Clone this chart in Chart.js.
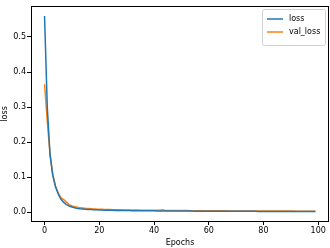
<!DOCTYPE html>
<html>
<head>
<meta charset="utf-8">
<script src="https://cdn.jsdelivr.net/npm/chart.js@4"></script>
<style>
html,body{margin:0;padding:0;background:#fff;}
#wrap{width:330px;height:248px;position:relative;}
</style>
</head>
<body>
<div id="wrap"><canvas id="c" width="330" height="248"></canvas></div>
<script>
const epochs = [];
for (let i = 0; i < 100; i++) epochs.push(i);

const loss = [
0.560, 0.300, 0.165, 0.105, 0.073, 0.052, 0.037, 0.028, 0.022, 0.018,
0.015, 0.013, 0.011, 0.0100, 0.0092, 0.0085, 0.0080, 0.0076, 0.0071, 0.0068,
0.0065, 0.0062, 0.0060, 0.0058, 0.0057, 0.0055, 0.0053, 0.0052, 0.0050, 0.0049,
0.0048, 0.0047, 0.0046, 0.0045, 0.0044, 0.0044, 0.0043, 0.0042, 0.0041, 0.0040,
0.0040, 0.0039, 0.0039, 0.0038, 0.0037, 0.0037, 0.0036, 0.0036, 0.0035, 0.0035,
0.0034, 0.0034, 0.0034, 0.0033, 0.0033, 0.0032, 0.0032, 0.0031, 0.0031, 0.0031,
0.0030, 0.0030, 0.0030, 0.0029, 0.0029, 0.0029, 0.0028, 0.0028, 0.0028, 0.0028,
0.0027, 0.0027, 0.0027, 0.0027, 0.0026, 0.0026, 0.0026, 0.0026, 0.0025, 0.0025,
0.0025, 0.0025, 0.0025, 0.0024, 0.0024, 0.0024, 0.0024, 0.0024, 0.0023, 0.0023,
0.0023, 0.0023, 0.0023, 0.0022, 0.0022, 0.0022, 0.0022, 0.0022, 0.0022, 0.0021
];

const valLoss = [
0.365, 0.260, 0.165, 0.108, 0.075, 0.055, 0.041, 0.036, 0.029, 0.022,
0.018, 0.016, 0.014, 0.013, 0.012, 0.011, 0.0105, 0.0100, 0.0096, 0.0090,
0.0088, 0.0085, 0.0081, 0.0078, 0.0076, 0.0074, 0.0072, 0.0070, 0.0069, 0.0067,
0.0066, 0.0064, 0.0063, 0.0062, 0.0061, 0.0059, 0.0058, 0.0057, 0.0056, 0.0055,
0.0055, 0.0054, 0.0060, 0.0072, 0.0058, 0.0052, 0.0051, 0.0050, 0.0050, 0.0049,
0.0048, 0.0048, 0.0047, 0.0046, 0.0046, 0.0045, 0.0045, 0.0044, 0.0044, 0.0043,
0.0043, 0.0042, 0.0042, 0.0041, 0.0041, 0.0041, 0.0040, 0.0040, 0.0039, 0.0039,
0.0039, 0.0038, 0.0038, 0.0038, 0.0037, 0.0037, 0.0037, 0.0036, 0.0036, 0.0036,
0.0035, 0.0035, 0.0035, 0.0035, 0.0034, 0.0034, 0.0034, 0.0034, 0.0033, 0.0033,
0.0033, 0.0033, 0.0032, 0.0032, 0.0032, 0.0032, 0.0031, 0.0031, 0.0031, 0.0031
];

const xTicks = [0, 20, 40, 60, 80, 100];
const yTicks = [0.0, 0.1, 0.2, 0.3, 0.4, 0.5];
const seriesLabels = ['loss', 'val_loss'];
const seriesColors = ['#1f77b4', '#ff7f0e'];

const FONT = 'DejaVu Sans';

const framePlugin = {
  id: 'frame',
  afterDatasetsDraw(chart) {
    const {ctx, chartArea: a} = chart;
    ctx.save();
    ctx.strokeStyle = '#000';
    ctx.lineWidth = 1;
    ctx.strokeRect(Math.round(a.left) + 0.5, Math.round(a.top) + 0.5,
      Math.round(a.right - a.left) - 1, Math.round(a.bottom - a.top) - 1);
    // legend
    const bw = 63, bh = 36;
    const bx = Math.round(a.right) - bw - 4, by = Math.round(a.top) + 3;
    ctx.fillStyle = 'rgba(255,255,255,0.85)';
    ctx.strokeStyle = '#d0d0d0';
    ctx.lineWidth = 1;
    ctx.beginPath();
    ctx.roundRect(bx + 0.5, by + 0.5, bw, bh, 2);
    ctx.fill();
    ctx.stroke();
    ctx.font = '8px "' + FONT + '"';
    ctx.textBaseline = 'middle';
    ctx.textAlign = 'left';
    chart.data.datasets.forEach((ds, i) => {
      const yy = by + 10 + i * 13;
      ctx.strokeStyle = ds.borderColor;
      ctx.lineWidth = 1.5;
      ctx.beginPath();
      ctx.moveTo(bx + 5, yy);
      ctx.lineTo(bx + 21, yy);
      ctx.stroke();
      ctx.fillStyle = '#000';
      ctx.fillText(ds.label, bx + 27, yy);
    });
    ctx.restore();
  }
};

new Chart(document.getElementById('c'), {
  type: 'line',
  data: {
    labels: epochs,
    datasets: [
      { label: seriesLabels[0], data: loss, borderColor: seriesColors[0], borderWidth: 1.5, pointRadius: 0, tension: 0, fill: false },
      { label: seriesLabels[1], data: valLoss, borderColor: seriesColors[1], borderWidth: 1.5, pointRadius: 0, tension: 0, fill: false }
    ]
  },
  options: {
    responsive: false,
    animation: false,
    devicePixelRatio: 1,
    layout: { padding: { left: 0, right: 1, top: 0, bottom: 0 } },
    plugins: { legend: { display: false }, tooltip: { enabled: false } },
    scales: {
      x: {
        type: 'linear',
        min: -4.95, max: 103.95,
        afterBuildTicks: s => { s.ticks = xTicks.map(v => ({value: v})); },
        afterFit: s => { s.height = 26; },
        grid: { drawOnChartArea: false, drawTicks: true, tickLength: 3, color: '#000' },
        border: { display: false },
        ticks: { color: '#000', font: { family: FONT, size: 8 }, padding: 1, maxRotation: 0, callback: v => String(v) },
        title: { display: true, text: 'Epochs', color: '#000', font: { family: FONT, size: 8 }, padding: { top: 0, bottom: 0 } }
      },
      y: {
        type: 'linear',
        min: -0.0278, max: 0.589,
        afterBuildTicks: s => { s.ticks = yTicks.map(v => ({value: v})); },
        afterFit: s => { s.width = 31; },
        grid: { drawOnChartArea: false, drawTicks: true, tickLength: 4, color: '#000' },
        border: { display: false },
        ticks: { color: '#000', font: { family: FONT, size: 8 }, padding: 1, callback: v => v.toFixed(1) },
        title: { display: true, text: 'loss', color: '#000', font: { family: FONT, size: 8 }, padding: { top: 0, bottom: 1 } }
      }
    }
  },
  plugins: [framePlugin]
});
</script>
</body>
</html>
